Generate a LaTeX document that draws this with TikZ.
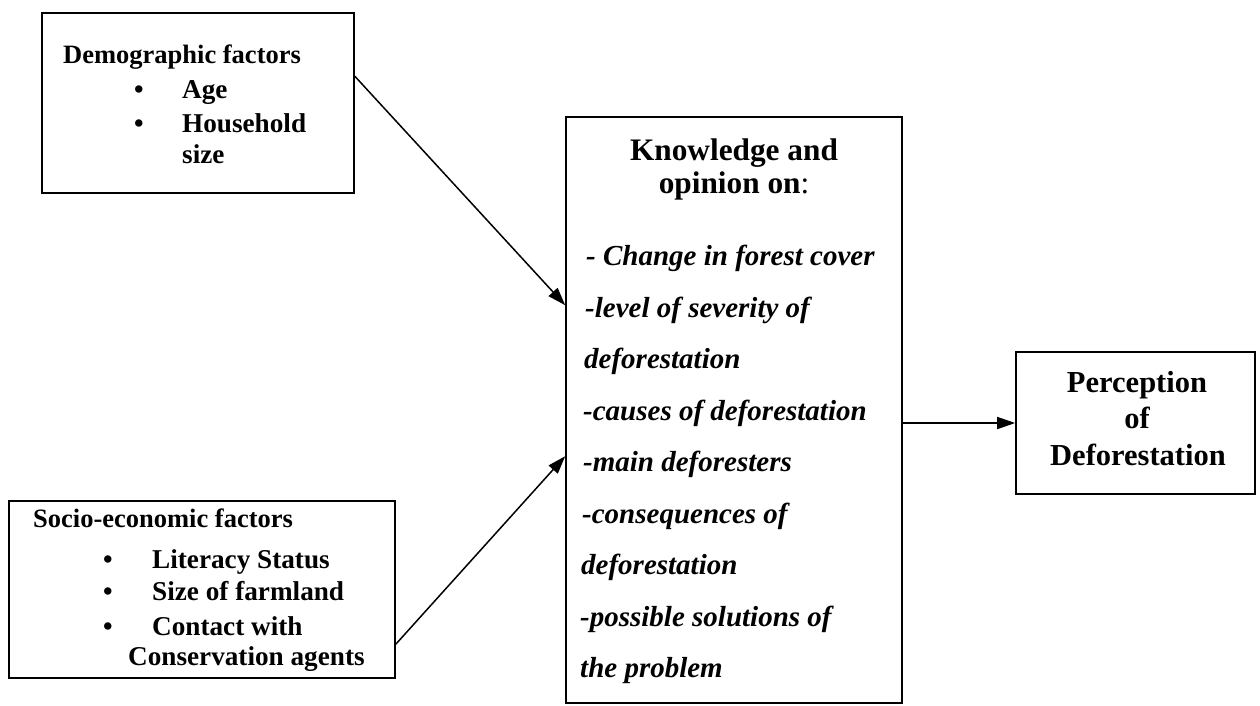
\documentclass[tikz,border=0pt]{standalone}
\usepackage{fontspec}
\setmainfont{Liberation Serif}
\usetikzlibrary{arrows.meta}
\begin{document}
\begin{tikzpicture}[x=1pt,y=-1pt,
  box/.style={draw=black,line width=1.6pt,rectangle,inner sep=0pt},
  txt/.style={anchor=base west,inner sep=0pt},
  ctxt/.style={anchor=base,inner sep=0pt},
  small/.style={font=\fontsize{26.5}{30}\selectfont\bfseries},
  smallitem/.style={font=\fontsize{27.2}{30}\selectfont\bfseries},
  head/.style={font=\fontsize{31.3}{34}\selectfont\bfseries},
  item/.style={font=\fontsize{29}{32}\selectfont\bfseries\itshape},
  perc/.style={font=\fontsize{30.5}{33}\selectfont\bfseries},
  arr/.style={line width=1.5pt,-{Triangle[length=18pt,width=12pt]}}]
\useasboundingbox (0,0) rectangle (1260,705);
% boxes
\node[box,minimum width=312pt,minimum height=180pt] (demo) at (198,103) {};
\node[box,minimum width=386pt,minimum height=177pt] (socio) at (202,589.5) {};
\node[box,minimum width=336pt,minimum height=586pt] (know) at (734,410) {};
\node[box,minimum width=239pt,minimum height=142pt] (perc) at (1135.5,423) {};
% demographic text
\node[txt,small] (dh) at (63,63) {Demographic factors};
\node[ctxt,smallitem] (db1) at (139,98) {•};
\node[ctxt,smallitem] (db2) at (139,132) {•};
\node[txt,smallitem] (d1) at (182,98) {Age};
\node[txt,smallitem] (d2) at (182,132) {Household};
\node[txt,smallitem] (d3) at (182,163) {size};
% socio text
\node[txt,small] (sh) at (33,527) {Socio-economic factors};
\node[ctxt,smallitem] (sb1) at (108,568) {•};
\node[ctxt,smallitem] (sb2) at (108,600) {•};
\node[ctxt,smallitem] (sb3) at (108,635) {•};
\node[txt,smallitem] (s1) at (152,568) {Literacy Status};
\node[txt,smallitem] (s2) at (152,600) {Size of farmland};
\node[txt,smallitem] (s3) at (152,635) {Contact with};
\node[txt,smallitem] (s4) at (128,665) {Conservation agents};
% knowledge text
\node[ctxt,head] (k1) at (734,160) {Knowledge and};
\node[ctxt,head] (k2) at (734,193) {opinion on\textmd{:}};
\node[txt,item] (i1) at (586,265) {- Change in forest cover};
\node[txt,item] (i2) at (585,317) {-level of severity of};
\node[txt,item] (i3) at (584,368) {deforestation};
\node[txt,item] (i4) at (583,420) {-causes of deforestation};
\node[txt,item] (i5) at (583,471) {-main deforesters};
\node[txt,item] (i6) at (582,523) {-consequences of};
\node[txt,item] (i7) at (581,574) {deforestation};
\node[txt,item] (i8) at (580,626) {-possible solutions of};
\node[txt,item] (i9) at (580,677) {the problem};
% perception text
\node[ctxt,perc] (p1) at (1137,392) {Perception};
\node[ctxt,perc] (p2) at (1137,428) {of};
\node[ctxt,perc] (p3) at (1138,465) {Deforestation};
% arrows
\draw[arr] ([yshift=-64pt]demo.north east) -- ([yshift=-189pt]know.north west);
\draw[arr] ([yshift=-144pt]socio.north east) -- ([yshift=-340pt]know.north west);
\draw[arr] (know.east |- perc.west) -- (perc.west);
\end{tikzpicture}
\end{document}
